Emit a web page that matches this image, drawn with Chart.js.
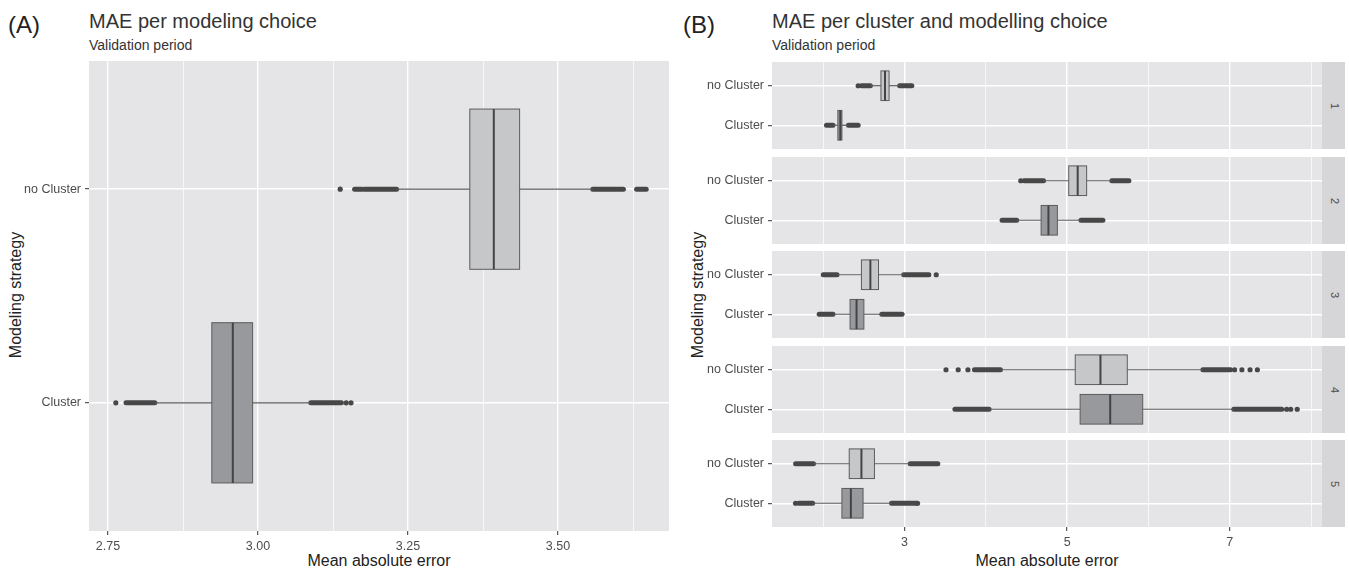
<!DOCTYPE html>
<html>
<head>
<meta charset="utf-8">
<script src="https://cdn.jsdelivr.net/npm/chart.js@4.4.0/dist/chart.umd.min.js"></script>
<style>
  body { margin: 0; background: #fff; font-family: "Liberation Sans", Arial, sans-serif; }
  #page { position: relative; width: 1349px; height: 571px; overflow: hidden; }
  .txt { position: absolute; white-space: nowrap; line-height: 1; }
  .rot { transform: translate(-50%, -50%) rotate(-90deg); }
  .ctr { transform: translateX(-50%); }
  canvas { position: absolute; }
  .strip { position: absolute; left: 1322px; width: 23px; height: 87px; background: #d6d6d8; }
  .strip span { position: absolute; left: 50%; top: 50%; transform: translate(-50%, -50%) rotate(90deg);
                font-size: 11px; color: #4d4d4d; line-height: 1; }
</style>
</head>
<body>
<div id="page">
  <div class="txt" style="left:8px;top:13px;font-size:24px;color:#222">(A)</div>
  <div class="txt" style="left:89px;top:11px;font-size:20px;color:#333">MAE per modeling choice</div>
  <div class="txt" style="left:89px;top:38px;font-size:14px;color:#333">Validation period</div>
  <div class="txt rot" style="left:16px;top:295px;font-size:16px;color:#222">Modeling strategy</div>
  <div class="txt ctr" style="left:379px;top:553px;font-size:16px;color:#222">Mean absolute error</div>

  <div class="txt" style="left:683px;top:13px;font-size:24px;color:#222">(B)</div>
  <div class="txt" style="left:772px;top:11px;font-size:20px;color:#333">MAE per cluster and modelling choice</div>
  <div class="txt" style="left:772px;top:38px;font-size:14px;color:#333">Validation period</div>
  <div class="txt rot" style="left:698px;top:295px;font-size:16px;color:#222">Modeling strategy</div>
  <div class="txt ctr" style="left:1047px;top:553px;font-size:16px;color:#222">Mean absolute error</div>

  <canvas id="chartA" width="670" height="510" style="left:0;top:61px"></canvas>
  <div id="facets"></div>
</div>

<script>
// categories on the y axis (1 = bottom, 2 = top)
const categories = ['Cluster', 'no Cluster'];
const clusters = ['1', '2', '3', '4', '5'];

// x tick labels and grid lines
const majorA = [2.75, 3.00, 3.25, 3.50];
const minorA = [2.875, 3.125, 3.375, 3.625];
const majorB = [3, 5, 7];
const minorB = [2, 4, 6, 8];

// panel A: [lower whisker, Q1, median, Q3, upper whisker] per category
const boxA = [
  [2.828, 2.923, 2.958, 2.991, 3.088],
  [3.231, 3.353, 3.393, 3.436, 3.558]
];
// dense runs of outliers [from, to]
const runsA = [
  [[2.780, 2.828], [3.088, 3.139]],
  [[3.161, 3.173], [3.177, 3.231], [3.558, 3.609], [3.631, 3.647]]
];
// single outliers
const dotsA = [
  [2.763, 3.147, 3.155],
  [3.137]
];

// panel B: per cluster, [Cluster, no Cluster]
const boxB = [
  [[2.12, 2.18, 2.21, 2.23, 2.31], [2.58, 2.71, 2.76, 2.81, 2.94]],
  [[4.38, 4.68, 4.77, 4.88, 5.17], [4.71, 5.02, 5.13, 5.24, 5.55]],
  [[2.12, 2.33, 2.41, 2.50, 2.72], [2.17, 2.47, 2.58, 2.68, 2.99]],
  [[4.04, 5.16, 5.53, 5.93, 7.05], [4.18, 5.10, 5.41, 5.74, 6.67]],
  [[1.87, 2.23, 2.34, 2.49, 2.84], [1.88, 2.32, 2.47, 2.63, 3.07]]
];
const runsB = [
  [[[2.04, 2.12], [2.31, 2.43]], [[2.47, 2.58], [2.94, 3.09]]],
  [[[4.20, 4.38], [5.17, 5.44]], [[4.47, 4.71], [5.55, 5.76]]],
  [[[1.95, 2.12], [2.72, 2.97]], [[2.00, 2.17], [2.99, 3.30]]],
  [[[3.62, 4.04], [7.05, 7.64]], [[3.86, 4.18], [6.67, 7.01]]],
  [[[1.70, 1.87], [2.84, 3.15]], [[1.66, 1.88], [3.07, 3.41]]]
];
const dotsB = [
  [[], [2.43]],
  [[], [4.43]],
  [[], [3.39]],
  [[7.70, 7.75, 7.83], [3.51, 3.66, 3.78, 7.06, 7.15, 7.25, 7.34]],
  [[1.66, 3.16], []]
];

const FONT = '"Liberation Sans", Arial, sans-serif';
const panelBg = '#e5e5e7';
const fills = ['#98999c', '#c6c7c9'];
const dotCol = '#474747';

const isIn = (arr, v) => arr.some(m => Math.abs(m - v) < 1e-9);

// boxes + medians drawn through the chart scales
function boxPlugin(stats) {
  return {
    id: 'boxes',
    beforeDraw(chart) {
      const { ctx, chartArea: a } = chart;
      ctx.save();
      ctx.fillStyle = panelBg;
      ctx.fillRect(a.left, a.top, a.width, a.height);
      ctx.restore();
    },
    afterDatasetsDraw(chart) {
      const { ctx } = chart;
      const xs = chart.scales.x, ys = chart.scales.y;
      ctx.save();
      stats.forEach((s, i) => {
        const yTop = ys.getPixelForValue(i + 1 + 0.375);
        const yBot = ys.getPixelForValue(i + 1 - 0.375);
        const xL = xs.getPixelForValue(s[1]);
        const xR = xs.getPixelForValue(s[3]);
        const xM = xs.getPixelForValue(s[2]);
        ctx.fillStyle = fills[i];
        ctx.fillRect(xL, yTop, xR - xL, yBot - yTop);
        ctx.strokeStyle = '#5c5c5c';
        ctx.lineWidth = 1;
        ctx.strokeRect(xL, yTop, xR - xL, yBot - yTop);
        ctx.strokeStyle = '#444';
        ctx.lineWidth = 2;
        ctx.beginPath();
        ctx.moveTo(xM, yTop);
        ctx.lineTo(xM, yBot);
        ctx.stroke();
      });
      ctx.restore();
    }
  };
}

function buildDatasets(stats, runs, dots) {
  const ds = [];
  stats.forEach((s, i) => {
    const y = i + 1;
    // whisker (box is painted on top of it)
    ds.push({ type: 'line', data: [{ x: s[0], y }, { x: s[4], y }],
              borderColor: '#5a5a5a', borderWidth: 1.2, pointRadius: 0 });
    runs[i].forEach(r => ds.push({ type: 'line', data: [{ x: r[0], y }, { x: r[1], y }],
              borderColor: dotCol, borderWidth: 5, borderCapStyle: 'round', pointRadius: 0 }));
    if (dots[i].length) {
      ds.push({ type: 'scatter', data: dots[i].map(x => ({ x, y })),
                backgroundColor: dotCol, borderWidth: 0, pointRadius: 2.6 });
    }
  });
  return ds;
}

function makeChart(canvas, cfg) {
  const tickFont = { family: FONT, size: 12.5 };
  return new Chart(canvas, {
    type: 'scatter',
    data: { datasets: buildDatasets(cfg.stats, cfg.runs, cfg.dots) },
    plugins: [boxPlugin(cfg.stats)],
    options: {
      responsive: false,
      animation: false,
      events: [],
      layout: { autoPadding: false, padding: { left: 0, top: 0, right: cfg.padRight, bottom: 0 } },
      plugins: { legend: { display: false }, tooltip: { enabled: false } },
      scales: {
        x: {
          type: 'linear', min: cfg.xMin, max: cfg.xMax,
          afterBuildTicks: s => { s.ticks = cfg.major.concat(cfg.minor).map(v => ({ value: v })); },
          afterFit: s => { s.height = cfg.xHeight; s.paddingLeft = 0; s.paddingRight = 0; },
          ticks: {
            display: cfg.showX, autoSkip: false, maxRotation: 0, padding: 4,
            color: '#4d4d4d', font: tickFont,
            callback: v => isIn(cfg.major, v) ? cfg.fmt(v) : ''
          },
          grid: {
            color: '#ffffff',
            lineWidth: c => (c.tick && isIn(cfg.major, c.tick.value)) ? 1.4 : 0.7,
            drawTicks: cfg.showX, tickLength: 4, tickWidth: 1,
            tickColor: c => (c.tick && isIn(cfg.major, c.tick.value)) ? '#333' : 'rgba(0,0,0,0)'
          },
          border: { display: false }
        },
        y: {
          type: 'linear', min: 0.4, max: 2.6,
          afterBuildTicks: s => { s.ticks = categories.map((c, i) => ({ value: i + 1 })); },
          afterFit: s => { s.width = cfg.yWidth; s.paddingTop = 0; s.paddingBottom = 0; },
          ticks: {
            autoSkip: false, padding: 4, color: '#4d4d4d', font: tickFont,
            callback: v => categories[Math.round(v) - 1]
          },
          grid: { color: '#ffffff', lineWidth: 1.4, tickLength: 4, tickWidth: 1, tickColor: '#333' },
          border: { display: false }
        }
      }
    }
  });
}

// panel A
makeChart(document.getElementById('chartA'), {
  stats: boxA, runs: runsA, dots: dotsA,
  xMin: 2.7183, xMax: 3.685, major: majorA, minor: minorA,
  fmt: v => v.toFixed(2), showX: true, xHeight: 40, yWidth: 89, padRight: 1
});

// panel B, one chart per cluster facet
const facetTops = [62, 157, 251, 346, 440];
const facetBox = document.getElementById('facets');
clusters.forEach((cl, k) => {
  const last = k === clusters.length - 1;
  const cv = document.createElement('canvas');
  cv.width = 632;
  cv.height = last ? 131 : 87;
  cv.style.left = '690px';
  cv.style.top = facetTops[k] + 'px';
  facetBox.appendChild(cv);

  const strip = document.createElement('div');
  strip.className = 'strip';
  strip.style.top = facetTops[k] + 'px';
  strip.innerHTML = '<span>' + cl + '</span>';
  facetBox.appendChild(strip);

  makeChart(cv, {
    stats: boxB[k], runs: runsB[k], dots: dotsB[k],
    xMin: 1.37, xMax: 8.135, major: majorB, minor: minorB,
    fmt: v => String(v), showX: last, xHeight: last ? 44 : 0, yWidth: 82, padRight: 0
  });
});
</script>
</body>
</html>
